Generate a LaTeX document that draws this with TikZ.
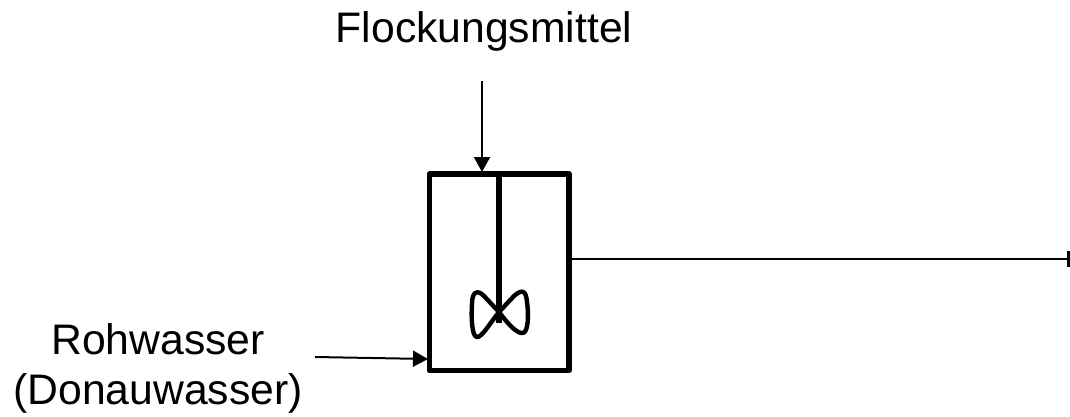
\documentclass[tikz,border=0pt]{standalone}
\usepackage{fontspec}
\setmainfont{Liberation Sans}
\usetikzlibrary{arrows.meta}
\tikzset{
 lbl/.style={font=\fontsize{42.7}{50}\selectfont,align=center,inner sep=0pt,text=black},
 wall/.style={draw=black,line width=5.5pt,line join=round},
 blade/.style={draw=black,line width=4.4pt,line join=round},
 flow/.style={draw=black,line width=2pt,-{Triangle[length=15pt,width=16pt]}},
}
\begin{document}
\begin{tikzpicture}[x=1pt,y=-1pt]
\useasboundingbox (0,0) rectangle (1070,417);
\fill[white] (0,0) rectangle (1070,417);
\node[lbl] (top) at (484,31) {Flockungsmittel};
\node[lbl] (raw) at (158,368.5) {Rohwasser\\(Donauwasser)};
\coordinate (topstart) at (482,81);
\coordinate (tanktop) at (482,172);
\coordinate (rawstart) at (315,357);
\coordinate (tankleft) at (428,359);
\coordinate (outstart) at (571,259);
\coordinate (outend) at (1068,259);
\draw[wall] (429.5,174) rectangle (569,370.5);
\draw[flow] (topstart) -- (tanktop);
\draw[flow] (rawstart) -- (tankleft);
\draw[draw=black,line width=2pt] (outstart) -- (outend);
\draw[draw=black,line width=3pt] (outend) ++(0,-8) -- ++(0,16);
\draw[wall] (499,174) -- (499,323);
\draw[blade] (499,312) -- (484,296) .. controls (477,289) and (472,292) .. (472,304)
 .. controls (471,318) and (472,337) .. (477,337) .. controls (482,337) and (488,326) .. (499,312)
 -- (514,296) .. controls (522,289) and (526,290) .. (527,302)
 .. controls (529,316) and (528,332) .. (523,333) .. controls (517,334) and (508,324) .. (499,312);
\end{tikzpicture}
\end{document}
